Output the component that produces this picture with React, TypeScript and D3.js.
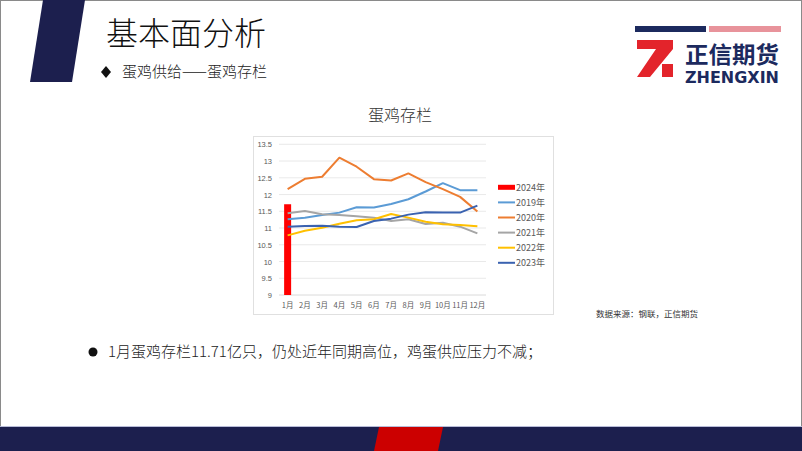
import React from "react";
import * as d3 from "d3";

const months = ["1月", "2月", "3月", "4月", "5月", "6月", "7月", "8月", "9月", "10月", "11月", "12月"];
const yTicks = [9, 9.5, 10, 10.5, 11, 11.5, 12, 12.5, 13, 13.5];
const bar2024 = [11.71];
const s2019 = [11.26, 11.31, 11.39, 11.46, 11.62, 11.61, 11.72, 11.86, 12.09, 12.34, 12.13, 12.13];
const s2020 = [12.16, 12.47, 12.53, 13.1, 12.83, 12.46, 12.42, 12.63, 12.37, 12.16, 11.93, 11.49];
const s2021 = [11.44, 11.51, 11.41, 11.39, 11.35, 11.31, 11.21, 11.26, 11.12, 11.16, 11.04, 10.84];
const s2022 = [10.78, 10.92, 11.01, 11.13, 11.23, 11.26, 11.42, 11.31, 11.19, 11.11, 11.09, 11.05];
const s2023 = [11.04, 11.06, 11.07, 11.04, 11.03, 11.21, 11.28, 11.4, 11.47, 11.46, 11.46, 11.67];

const lineSeries = [
  { name: "2019年", values: s2019, color: "#5b9bd5" },
  { name: "2020年", values: s2020, color: "#ed7d31" },
  { name: "2021年", values: s2021, color: "#a5a5a5" },
  { name: "2022年", values: s2022, color: "#ffc000" },
  { name: "2023年", values: s2023, color: "#3a62b0" },
];

const CJK = "'Noto Sans CJK SC', 'Noto Sans', sans-serif";
const NUM = "'Liberation Sans', 'DejaVu Sans', sans-serif";

export default function App() {
  const W = 802, H = 451;
  const x = d3.scaleBand<string>().domain(months).range([279, 486]);
  const y = d3.scaleLinear().domain([9, 13.5]).range([295, 144.3]);
  const cx = (m: string) => (x(m) as number) + x.bandwidth() / 2;
  const line = d3
    .line<number>()
    .x((_, i) => cx(months[i]))
    .y((v) => y(v));

  const legendItems = [{ name: "2024年", color: "#ff0000", bar: true }, ...lineSeries.map((s) => ({ name: s.name, color: s.color, bar: false }))];

  return (
    <svg width={W} height={H} style={{ position: "absolute", left: 0, top: 0, background: "#fff" }}>
      <rect x={0.5} y={0.5} width={W - 1} height={H - 1} fill="#fff" stroke="#8a8a8a" />
      {/* header */}
      <polygon points="43,0 85,0 72,82 30,82" fill="#1c1f4e" />
      <text x={106} y={45} fontFamily={CJK} fontSize={32} fontWeight={300} fill="#111">基本面分析</text>
      <polygon points="106,66 111,72 106,78 101,72" fill="#111" />
      <text x={122} y={77} fontFamily={CJK} fontSize={15} fontWeight={300} fill="#222">蛋鸡供给——蛋鸡存栏</text>

      {/* logo */}
      <rect x={635} y={26} width={71} height={6} fill="#1c2a5e" />
      <rect x={709} y={26} width={72} height={6} fill="#e8939b" />
      <polygon points="637,40 673,40 673,49 650,77 637,77 656,49 637,49" fill="#e3242b" />
      <rect x={662} y={64} width={11} height={13} fill="#e3242b" />
      <text x={685} y={63} fontFamily={CJK} fontSize={23} fontWeight={700} fill="#1c2a5e" textLength={94} lengthAdjust="spacingAndGlyphs">正信期货</text>
      <text x={685} y={83} fontFamily="'DejaVu Sans', sans-serif" fontSize={15} fontWeight={700} fill="#1c2a5e" textLength={94} lengthAdjust="spacingAndGlyphs">ZHENGXIN</text>

      {/* chart */}
      <text x={400} y={121} textAnchor="middle" fontFamily={CJK} fontSize={16} fontWeight={300} fill="#333">蛋鸡存栏</text>
      <rect x={253.5} y={136.5} width={300} height={178} fill="#fff" stroke="#e0e0e0" />
      {yTicks.map((t) => (
        <g key={t}>
          <line x1={279} x2={486} y1={y(t)} y2={y(t)} stroke={t === 9 ? "#d0d0d0" : "#e3e3e3"} strokeWidth={0.8} />
          <text x={272} y={y(t) + 3} textAnchor="end" fontFamily={NUM} fontSize={7.5} fill="#595959">{t}</text>
        </g>
      ))}
      {months.map((m) => (
        <text key={m} x={cx(m)} y={308} textAnchor="middle" fontFamily={CJK} fontSize={7.5} fill="#595959">{m}</text>
      ))}
      {bar2024.map((v, i) => (
        <rect key={i} x={cx(months[i]) - 3.5} y={y(v)} width={7} height={y(9) - y(v)} fill="#ff0000" />
      ))}
      {lineSeries.map((s) => (
        <path key={s.name} d={line(s.values) || ""} fill="none" stroke={s.color} strokeWidth={2} strokeLinejoin="round" />
      ))}
      {legendItems.map((it, i) => {
        const ly = 187.3 + i * 15.1;
        return (
          <g key={it.name}>
            {it.bar ? (
              <rect x={498} y={ly - 2.5} width={17} height={5} fill={it.color} />
            ) : (
              <line x1={498} x2={515} y1={ly} y2={ly} stroke={it.color} strokeWidth={2} />
            )}
            <text x={516} y={ly + 3.2} fontFamily={CJK} fontSize={9} fill="#595959">{it.name}</text>
          </g>
        );
      })}
      <text x={596} y={317} fontFamily={CJK} fontSize={8.5} fill="#333">数据来源：钢联，正信期货</text>

      {/* bullet */}
      <circle cx={93} cy={352} r={4.5} fill="#111" />
      <text x={108} y={357} fontFamily={CJK} fontSize={15} fontWeight={300} fill="#222">1月蛋鸡存栏11.71亿只，仍处近年同期高位，鸡蛋供应压力不减；</text>

      {/* footer */}
      <line x1={0} x2={W} y1={426.5} y2={426.5} stroke="#b8bcd8" strokeWidth={1} />
      <rect x={0} y={427} width={W} height={24} fill="#1c1f4e" />
      <polygon points="379,427 443,427 438,451 374,451" fill="#cc0000" />
    </svg>
  );
}
